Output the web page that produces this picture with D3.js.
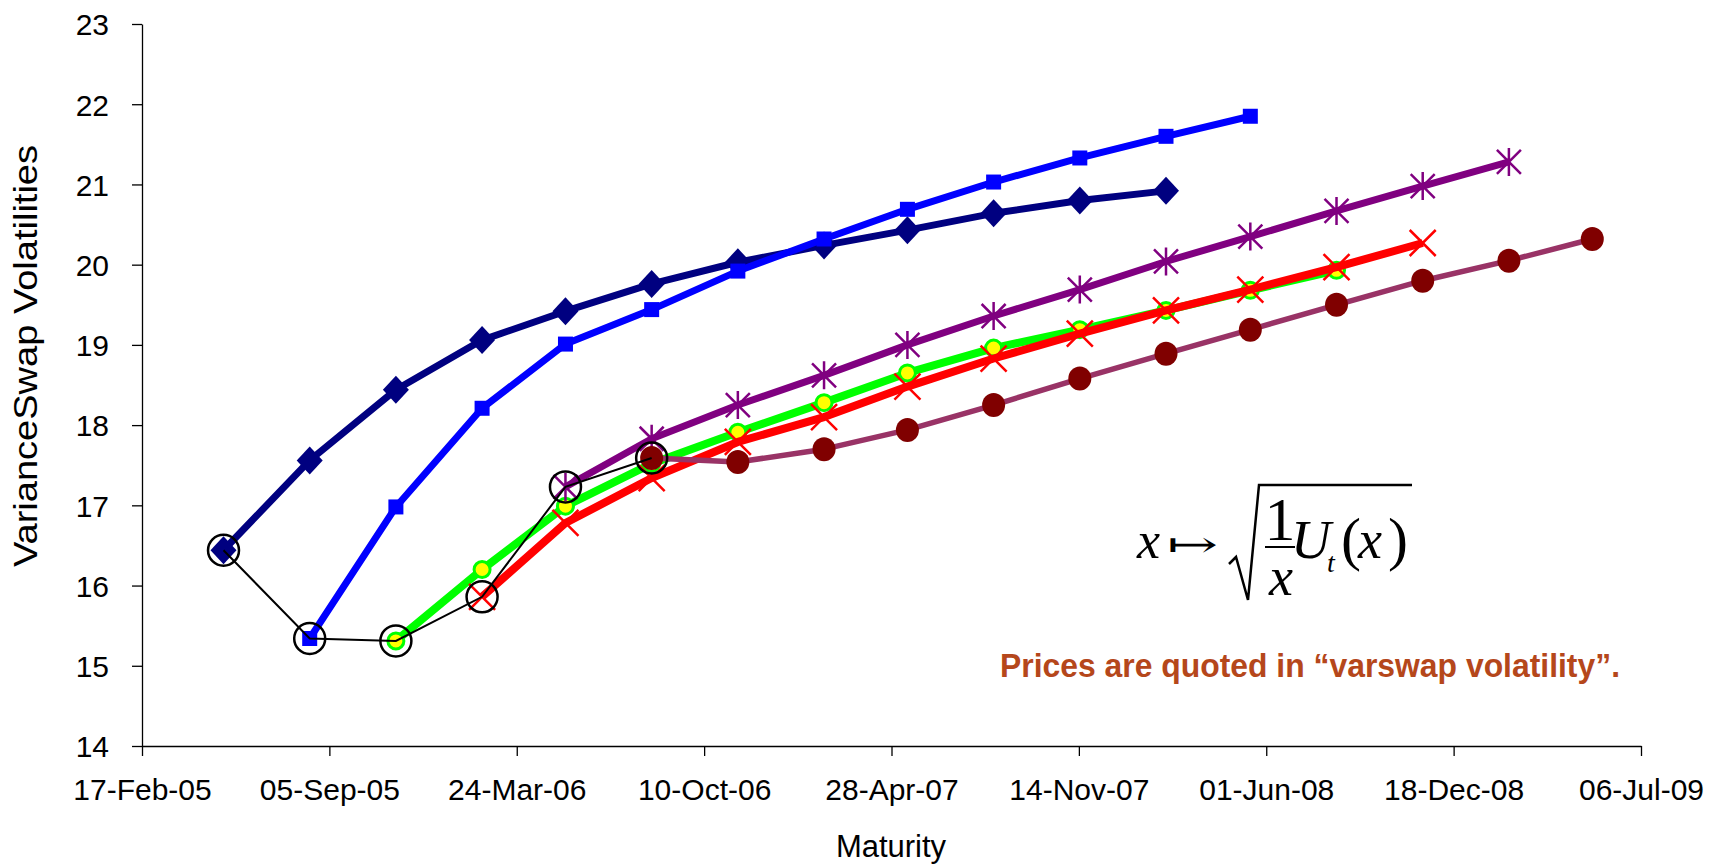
<!DOCTYPE html>
<html>
<head>
<meta charset="utf-8">
<script src="https://cdn.jsdelivr.net/npm/d3@7"></script>
<style>
 body{margin:0;background:#fff;}
 svg{display:block;font-family:Arial,"Liberation Sans",sans-serif;}
</style>
</head>
<body>
<div id="chart"></div>
<script>
// quarterly maturities
var maturities = ["2005-05-15","2005-08-15","2005-11-15","2006-02-15","2006-05-15","2006-08-15",
  "2006-11-15","2007-02-15","2007-05-15","2007-08-15","2007-11-15","2008-02-15",
  "2008-05-15","2008-08-15","2008-11-15","2009-02-15","2009-05-15"];

// each curve starts one quarter later than the previous one
var navyVols   = [16.44,17.56,18.44,19.06,19.42,19.76,20.03,20.24,20.43,20.64,20.80,20.92];
var blueVols   = [15.34,16.98,18.21,19.01,19.44,19.92,20.32,20.69,21.03,21.33,21.60,21.85];
var greenVols  = [15.31,16.20,16.99,17.52,17.91,18.28,18.65,18.96,19.19,19.43,19.68,19.93];
var redVols    = [15.86,16.78,17.34,17.79,18.10,18.48,18.83,19.14,19.43,19.69,19.97,20.27];
var purpleVols = [17.23,17.83,18.25,18.62,19.00,19.36,19.69,20.04,20.35,20.67,20.98,21.28];
var maroonVols = [17.59,17.54,17.70,17.94,18.25,18.58,18.89,19.19,19.50,19.80,20.05,20.32];

var yTicks = [14,15,16,17,18,19,20,21,22,23];

var width = 1715, height = 866;
var parse = d3.timeParse("%Y-%m-%d");
var start = new Date(2005,1,17), end = new Date(2009,6,6);

var x = d3.scaleTime().domain([start,end]).range([142,1641]);
var y = d3.scaleLinear().domain([14,23]).range([746,24]);

var svg = d3.select("#chart").append("svg")
  .attr("width",width).attr("height",height);

// axes
var xTicks = d3.range(9).map(function(i){ return d3.timeDay.offset(start,200*i); });
var gx = svg.append("g").attr("transform","translate(0,746)")
  .call(d3.axisBottom(x).tickValues(xTicks).tickFormat(d3.timeFormat("%d-%b-%y"))
        .tickSize(10).tickSizeOuter(0));
gx.selectAll("text").attr("y",54).attr("dy",0).style("font-size","30px").attr("fill","#000");

var gy = svg.append("g").attr("transform","translate(142,0)")
  .call(d3.axisLeft(y).tickValues(yTicks).tickSize(10).tickPadding(23).tickSizeOuter(0));
gy.selectAll("text").style("font-size","30px").attr("fill","#000").attr("dy","0.36em");
svg.selectAll(".domain, .tick line").attr("stroke","#000").attr("stroke-width",1.3);

svg.append("text").attr("x",891).attr("y",857).attr("text-anchor","middle")
  .style("font-size","31px").text("Maturity");
svg.append("text").attr("transform","translate(37,356) rotate(-90)")
  .attr("text-anchor","middle").style("font-size","33px")
  .attr("textLength",422).attr("lengthAdjust","spacingAndGlyphs")
  .text("VarianceSwap Volatilities");

// series
var line = d3.line().x(function(d){return x(d.date);}).y(function(d){return y(d.v);});

function pts(vals,offset){
  return vals.map(function(v,i){ return {date:parse(maturities[i+offset]), v:v}; });
}

var series = [
  {vals:navyVols,   off:0, color:"#000080", w:7,   marker:"diamond"},
  {vals:blueVols,   off:1, color:"#0000FF", w:7,   marker:"square"},
  {vals:greenVols,  off:2, color:"#00FF00", w:8,   marker:"yellow"},
  {vals:redVols,    off:3, color:"#FF0000", w:8,   marker:"cross"},
  {vals:purpleVols, off:4, color:"#800080", w:7,   marker:"star"},
  {vals:maroonVols, off:5, color:"#993366", w:5.5, marker:"dot"}
];

series.forEach(function(s){
  var data = pts(s.vals,s.off);
  var g = svg.append("g");
  g.append("path").datum(data).attr("d",line)
    .attr("fill","none").attr("stroke",s.color).attr("stroke-width",s.w)
    .attr("stroke-linejoin","round");
  var m = g.selectAll("g.m").data(data).enter().append("g")
    .attr("transform",function(d){return "translate("+x(d.date)+","+y(d.v)+")";});
  if(s.marker=="diamond"){
    m.append("path").attr("d","M0,-14L13,0L0,14L-13,0Z").attr("fill","#000080");
  } else if(s.marker=="square"){
    m.append("rect").attr("x",-7.5).attr("y",-7.5).attr("width",15).attr("height",15).attr("fill","#0000FF");
  } else if(s.marker=="yellow"){
    m.append("circle").attr("r",8).attr("fill","#FFFF00").attr("stroke","#00FF00").attr("stroke-width",3);
  } else if(s.marker=="cross"){
    m.append("path").attr("d","M-13,-13L13,13M-13,13L13,-13").attr("stroke","#FF0000").attr("stroke-width",2.5);
  } else if(s.marker=="star"){
    m.append("path").attr("d","M-12,-12L12,12M-12,12L12,-12M0,-14L0,14").attr("stroke","#800080").attr("stroke-width",2.5);
  } else {
    m.append("ellipse").attr("rx",11.5).attr("ry",12).attr("fill","#800000");
  }
});

// thin black line through the first point of each curve
var firsts = series.map(function(s){ return pts(s.vals,s.off)[0]; });
svg.append("path").datum(firsts).attr("d",line)
  .attr("fill","none").attr("stroke","#000").attr("stroke-width",2);
svg.selectAll("circle.first").data(firsts).enter().append("circle")
  .attr("class","first")
  .attr("cx",function(d){return x(d.date);}).attr("cy",function(d){return y(d.v);})
  .attr("r",15.5).attr("fill","none").attr("stroke","#000").attr("stroke-width",2.5);

// formula x -> sqrt(1/x U_t(x))
var serif = "'Times New Roman','Liberation Serif',serif";
var f = svg.append("g").style("font-family",serif).attr("fill","#000");
f.append("text").attr("x",1137).attr("y",558).style("font-size","52px").style("font-style","italic").text("x");
f.append("text").attr("x",1167).attr("y",557).style("font-family","'DejaVu Serif',serif").style("font-size","36px")
  .attr("textLength",51).attr("lengthAdjust","spacingAndGlyphs").text("\u21A6");
f.append("path").attr("d","M1229,564L1236,557L1248,600L1259,485L1412,485")
  .attr("fill","none").attr("stroke","#000").attr("stroke-width",2.5);
f.append("text").attr("x",1280).attr("y",540).attr("text-anchor","middle").style("font-size","62px").text("1");
f.append("line").attr("x1",1265).attr("x2",1295).attr("y1",547).attr("y2",547).attr("stroke","#000").attr("stroke-width",2);
f.append("text").attr("x",1281).attr("y",595).attr("text-anchor","middle").style("font-size","54px").style("font-style","italic").text("x");
f.append("text").attr("x",1291).attr("y",558).style("font-size","55px").style("font-style","italic").text("U");
f.append("text").attr("x",1327).attr("y",572).style("font-size","28px").style("font-style","italic").text("t");
f.append("text").attr("x",1341).attr("y",559).style("font-size","60px").text("(");
f.append("text").attr("x",1358).attr("y",558).style("font-size","54px").style("font-style","italic").text("x");
f.append("text").attr("x",1388).attr("y",559).style("font-size","60px").text(")");

svg.append("text").attr("x",1000).attr("y",677)
  .style("font-size","33px").style("font-weight","bold").attr("fill","#B5471B")
  .attr("textLength",620).attr("lengthAdjust","spacingAndGlyphs")
  .text("Prices are quoted in \u201Cvarswap volatility\u201D.");
</script>
</body>
</html>
